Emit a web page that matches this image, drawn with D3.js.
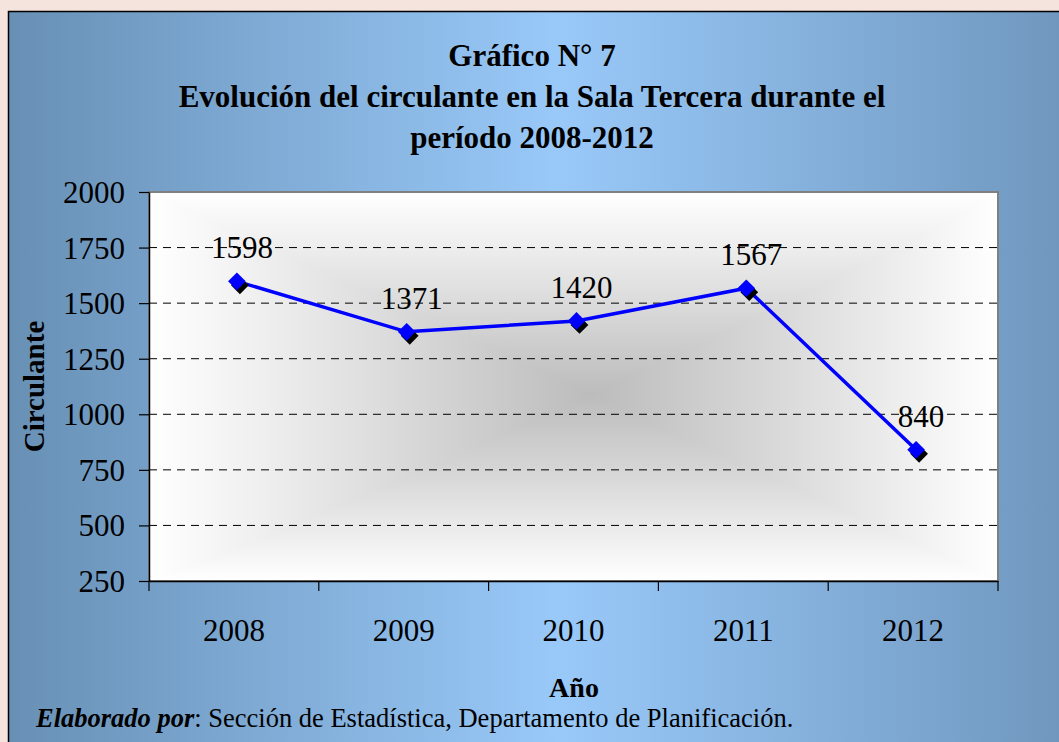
<!DOCTYPE html>
<html>
<head>
<meta charset="utf-8">
<script src="https://cdn.jsdelivr.net/npm/d3@7"></script>
<style>
  body { margin: 0; background: #f5e3dd; }
  svg { display: block; }
  text { font-family: "Liberation Serif", "Times New Roman", serif; fill: #000; }
</style>
</head>
<body>
<script>
// chart data
var years = ["2008", "2009", "2010", "2011", "2012"];
var circulante = [1598, 1371, 1420, 1567, 840];
var yTicks = [250, 500, 750, 1000, 1250, 1500, 1750, 2000];
var titleLines = ["Gráfico N° 7", "Evolución del circulante en la Sala Tercera durante el", "período 2008-2012"];

// canvas and plot area magic numbers
var w = 1059, h = 742;
var plot = {left: 149, right: 998, top: 192, bottom: 581};

var svg = d3.select("body").append("svg")
    .attr("width", w)
    .attr("height", h);

var defs = svg.append("defs");

// blue frame gradient, dark at the sides, light in the middle
var frameGrad = defs.append("linearGradient")
    .attr("id", "frameGrad")
    .attr("x1", "0").attr("x2", "1").attr("y1", "0").attr("y2", "0");
frameGrad.append("stop").attr("offset", "0%").attr("stop-color", "#6890b5");
frameGrad.append("stop").attr("offset", "50%").attr("stop-color", "#99c9f9");
frameGrad.append("stop").attr("offset", "100%").attr("stop-color", "#6c93b9");

// plot area: rectangular "from centre" gradient, built from a horizontal
// and a vertical gradient combined with a lighten blend
var grayStops = [
    [0, "#ffffff"], [0.1, "#f3f3f3"], [0.3, "#d9d9d9"], [0.52, "#bcbcbc"],
    [0.74, "#d9d9d9"], [0.92, "#f3f3f3"], [1, "#ffffff"]
];
function addGrayGrad(id, vertical) {
    var g = defs.append("linearGradient")
        .attr("id", id)
        .attr("x1", "0").attr("y1", "0")
        .attr("x2", vertical ? "0" : "1")
        .attr("y2", vertical ? "1" : "0");
    grayStops.forEach(function(s) {
        g.append("stop").attr("offset", s[0]).attr("stop-color", s[1]);
    });
}
addGrayGrad("plotGradH", false);
addGrayGrad("plotGradV", true);

svg.append("rect")
    .attr("width", w).attr("height", h)
    .attr("fill", "#f5e3dd");

svg.append("rect")
    .attr("x", 8.5).attr("y", 11.5)
    .attr("width", 1100).attr("height", 800)
    .attr("fill", "url(#frameGrad)")
    .attr("stroke", "#000")
    .attr("stroke-width", 1.5);

// title
svg.append("g")
    .selectAll("text")
    .data(titleLines)
    .enter().append("text")
    .attr("x", 532)
    .attr("y", function(d, i) { return 66 + i * 41; })
    .attr("text-anchor", "middle")
    .attr("font-size", 31)
    .attr("font-weight", "bold")
    .text(function(d) { return d; });

// scales
var x = d3.scaleBand()
    .domain(years)
    .range([plot.left, plot.right]);

var y = d3.scaleLinear()
    .domain([250, 2000])
    .range([plot.bottom, plot.top]);

// plot background
var bg = svg.append("g").style("isolation", "isolate");
bg.append("rect")
    .attr("x", plot.left).attr("y", plot.top)
    .attr("width", plot.right - plot.left)
    .attr("height", plot.bottom - plot.top)
    .attr("fill", "url(#plotGradH)");
bg.append("rect")
    .attr("x", plot.left).attr("y", plot.top)
    .attr("width", plot.right - plot.left)
    .attr("height", plot.bottom - plot.top)
    .attr("fill", "url(#plotGradV)")
    .style("mix-blend-mode", "lighten");

svg.append("rect")
    .attr("x", plot.left).attr("y", plot.top)
    .attr("width", plot.right - plot.left)
    .attr("height", plot.bottom - plot.top)
    .attr("fill", "none")
    .attr("stroke", "#808080")
    .attr("stroke-width", 2);

// dashed gridlines
svg.append("g")
    .selectAll("line")
    .data(yTicks.filter(function(d) { return d > 250 && d < 2000; }))
    .enter().append("line")
    .attr("x1", plot.left).attr("x2", plot.right)
    .attr("y1", function(d) { return y(d); })
    .attr("y2", function(d) { return y(d); })
    .attr("stroke", "#000")
    .attr("stroke-width", 1)
    .attr("stroke-dasharray", "8,6");

// y axis
var yAxis = svg.append("g")
    .attr("transform", "translate(" + plot.left + ",0)")
    .call(d3.axisLeft(y).tickValues(yTicks).tickFormat(d3.format("d"))
        .tickSize(10).tickSizeOuter(0).tickPadding(14));
yAxis.select(".domain").attr("stroke", "#000").attr("stroke-width", 1.5);
yAxis.selectAll(".tick line").attr("stroke", "#000").attr("stroke-width", 1.2);
yAxis.selectAll("text")
    .attr("font-size", 31)
    .attr("dy", "0.34em");

// x axis: labels under band centres, ticks on band edges
var xAxis = svg.append("g")
    .attr("transform", "translate(0," + plot.bottom + ")")
    .call(d3.axisBottom(x).tickSize(0).tickPadding(38));
xAxis.select(".domain")
    .attr("stroke", "#000").attr("stroke-width", 1.5);
xAxis.selectAll("text")
    .attr("font-size", 31);

var edges = years.map(function(d) { return x(d); })
    .concat([x(years[years.length - 1]) + x.bandwidth()]);
xAxis.append("g")
    .selectAll("line")
    .data(edges)
    .enter().append("line")
    .attr("x1", function(d) { return d; })
    .attr("x2", function(d) { return d; })
    .attr("y1", 0).attr("y2", 10)
    .attr("stroke", "#000")
    .attr("stroke-width", 1.2);

// axis titles
svg.append("text")
    .attr("transform", "translate(44," + ((plot.top + plot.bottom) / 2) + ") rotate(-90)")
    .attr("text-anchor", "middle")
    .attr("font-size", 29)
    .attr("font-weight", "bold")
    .text("Circulante");

svg.append("text")
    .attr("x", 574).attr("y", 697)
    .attr("text-anchor", "middle")
    .attr("font-size", 28)
    .attr("font-weight", "bold")
    .text("Año");

// footer
var foot = svg.append("text")
    .attr("x", 36).attr("y", 727)
    .attr("font-size", 26.5);
foot.append("tspan")
    .attr("font-weight", "bold")
    .attr("font-style", "italic")
    .text("Elaborado por");
foot.append("tspan")
    .text(": Sección de Estadística, Departamento de Planificación.");

// series
var pts = years.map(function(d, i) {
    return {year: d, value: circulante[i], cx: x(d) + x.bandwidth() / 2 + 3, cy: y(circulante[i])};
});

svg.append("path")
    .datum(pts)
    .attr("fill", "none")
    .attr("stroke", "#0000ff")
    .attr("stroke-width", 3.5)
    .attr("d", d3.line().x(function(d) { return d.cx; }).y(function(d) { return d.cy; }));

var diamond = d3.symbol().type(d3.symbolDiamond2).size(200);

// marker shadows
svg.append("g")
    .selectAll("path")
    .data(pts)
    .enter().append("path")
    .attr("d", diamond)
    .attr("transform", function(d) { return "translate(" + (d.cx + 3) + "," + (d.cy + 4) + ")"; })
    .attr("fill", "#000");

svg.append("g")
    .selectAll("path")
    .data(pts)
    .enter().append("path")
    .attr("d", diamond)
    .attr("transform", function(d) { return "translate(" + d.cx + "," + d.cy + ")"; })
    .attr("fill", "#0000ff");

// data labels
svg.append("g")
    .selectAll("text")
    .data(pts)
    .enter().append("text")
    .attr("x", function(d) { return d.cx + 5; })
    .attr("y", function(d) { return d.cy - 23; })
    .attr("text-anchor", "middle")
    .attr("font-size", 31)
    .text(function(d) { return d.value; });
</script>
</body>
</html>
